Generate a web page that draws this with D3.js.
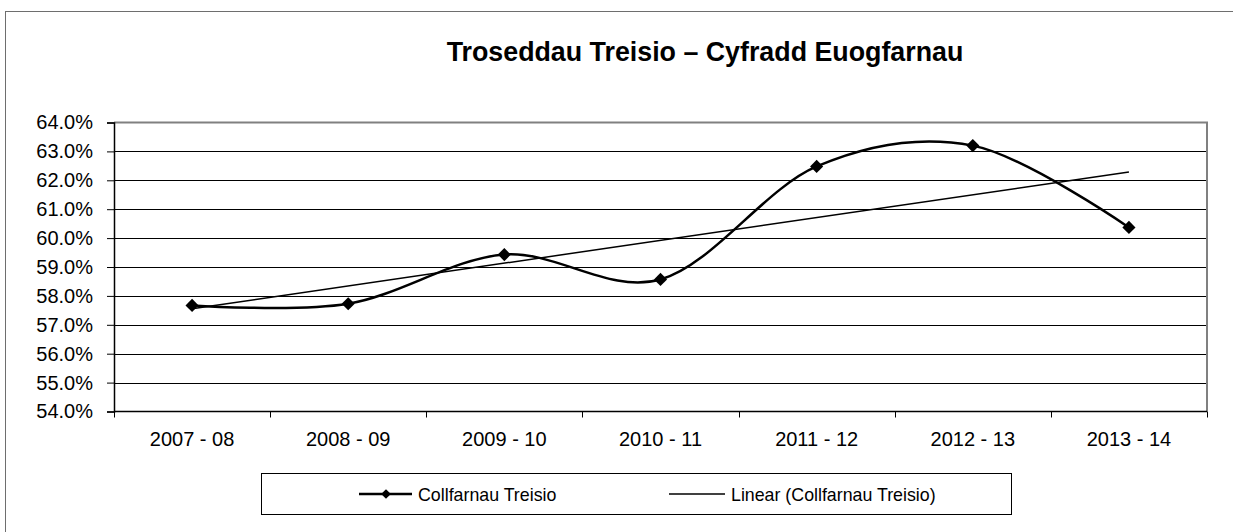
<!DOCTYPE html>
<html>
<head>
<meta charset="utf-8">
<script src="https://cdn.jsdelivr.net/npm/d3@7"></script>
<style>
  body { margin: 0; background: #fff; }
  svg { display: block; font-family: Arial, "Liberation Sans", sans-serif; }
</style>
</head>
<body>
<svg id="chart" width="1233" height="532"></svg>
<script>
// chart data
const years = ["2007 - 08", "2008 - 09", "2009 - 10", "2010 - 11", "2011 - 12", "2012 - 13", "2013 - 14"];
const rates = [57.67, 57.73, 59.43, 58.57, 62.48, 63.20, 60.37];
const yTicks = [54, 55, 56, 57, 58, 59, 60, 61, 62, 63, 64];
const seriesName = "Collfarnau Treisio";
const trendName = "Linear (Collfarnau Treisio)";
const titleText = "Troseddau Treisio – Cyfradd Euogfarnau";

const svg = d3.select("#chart");

// plot area
const plotL = 114, plotT = 122.5, plotR = 1207, plotB = 411.5;

// outer frame (runs off the right and bottom edge)
svg.append("rect")
    .attr("x", 5.5).attr("y", 11.5)
    .attr("width", 1300).attr("height", 600)
    .attr("fill", "none")
    .attr("stroke", "#6e6e6e");

const xScale = d3.scaleBand()
    .domain(years)
    .range([plotL, plotR]);

const yScale = d3.scaleLinear()
    .domain([54, 64])
    .range([plotB, plotT]);

// gridlines
svg.append("g").selectAll("line")
    .data(yTicks.slice(1, -1))
    .enter().append("line")
    .attr("x1", plotL).attr("x2", plotR)
    .attr("y1", d => Math.round(yScale(d)) + 0.5)
    .attr("y2", d => Math.round(yScale(d)) + 0.5)
    .attr("stroke", "#000")
    .attr("stroke-width", 1);

// plot border top / right
svg.append("path")
    .attr("d", `M${plotL},${plotT}H${plotR}V${plotB}`)
    .attr("fill", "none")
    .attr("stroke", "#808080")
    .attr("stroke-width", 2);

// y axis
const yAxis = d3.axisLeft(yScale)
    .tickValues(yTicks)
    .tickSize(7)
    .tickPadding(14)
    .tickFormat(d => d.toFixed(1) + "%");

const gy = svg.append("g")
    .attr("transform", `translate(${plotL},0)`)
    .call(yAxis);
gy.select(".domain").attr("stroke", "#000").attr("stroke-width", 1.5);
gy.selectAll(".tick line").attr("stroke", "#000");
gy.selectAll(".tick text")
    .attr("font-size", "20px")
    .attr("fill", "#000")
    .attr("font-family", "Arial, 'Liberation Sans', sans-serif");

// x axis, ticks on band edges
const gx = svg.append("g")
    .attr("transform", `translate(0,${plotB})`);
gx.append("line")
    .attr("x1", plotL).attr("x2", plotR)
    .attr("y1", 0).attr("y2", 0)
    .attr("stroke", "#000").attr("stroke-width", 1.5);
const edges = years.map(d => xScale(d)).concat([plotR]);
gx.selectAll(".edge")
    .data(edges)
    .enter().append("line")
    .attr("class", "edge")
    .attr("x1", d => Math.round(d) + 0.5).attr("x2", d => Math.round(d) + 0.5)
    .attr("y1", 0).attr("y2", 6)
    .attr("stroke", "#000");
gx.selectAll(".lbl")
    .data(years)
    .enter().append("text")
    .attr("class", "lbl")
    .attr("x", d => xScale(d) + xScale.bandwidth() / 2)
    .attr("y", 34)
    .attr("text-anchor", "middle")
    .attr("font-size", "20px")
    .text(d => d);

const pts = years.map((d, i) => ({ x: xScale(d) + xScale.bandwidth() / 2, v: rates[i], i: i }));

// linear trend (least squares on index)
const n = rates.length;
const mx = d3.mean(pts, d => d.i + 1);
const my = d3.mean(rates);
const slope = d3.sum(pts, d => (d.i + 1 - mx) * (d.v - my)) / d3.sum(pts, d => (d.i + 1 - mx) ** 2);
const icpt = my - slope * mx;
const trend = pts.map(d => ({ x: d.x, v: icpt + slope * (d.i + 1) }));

svg.append("path")
    .datum([trend[0], trend[n - 1]])
    .attr("d", d3.line().x(d => d.x).y(d => yScale(d.v)))
    .attr("fill", "none")
    .attr("stroke", "#000")
    .attr("stroke-width", 1.5);

// smoothed series line
svg.append("path")
    .datum(pts)
    .attr("d", d3.line().x(d => d.x).y(d => yScale(d.v)).curve(d3.curveCatmullRom.alpha(0)))
    .attr("fill", "none")
    .attr("stroke", "#000")
    .attr("stroke-width", 2.5);

const diamond = d3.symbol().type(d3.symbolDiamond2).size(110);
svg.append("g").selectAll("path")
    .data(pts)
    .enter().append("path")
    .attr("d", diamond)
    .attr("transform", d => `translate(${d.x},${yScale(d.v)})`)
    .attr("fill", "#000");

// title
svg.append("text")
    .attr("x", 705).attr("y", 61)
    .attr("text-anchor", "middle")
    .attr("font-size", "26.8px")
    .attr("font-weight", "bold")
    .text(titleText);

// legend
const lg = svg.append("g");
lg.append("rect")
    .attr("x", 261.5).attr("y", 473.5)
    .attr("width", 750).attr("height", 41)
    .attr("fill", "#fff")
    .attr("stroke", "#000")
    .attr("stroke-width", 1);
lg.append("line")
    .attr("x1", 359).attr("x2", 412).attr("y1", 494).attr("y2", 494)
    .attr("stroke", "#000").attr("stroke-width", 2.5);
lg.append("path")
    .attr("d", d3.symbol().type(d3.symbolDiamond2).size(60))
    .attr("transform", "translate(386,494)")
    .attr("fill", "#000");
lg.append("text")
    .attr("x", 418).attr("y", 500.5)
    .attr("font-size", "17.8px")
    .text(seriesName);
lg.append("line")
    .attr("x1", 669).attr("x2", 725).attr("y1", 494).attr("y2", 494)
    .attr("stroke", "#000").attr("stroke-width", 1.5);
lg.append("text")
    .attr("x", 731).attr("y", 500.5)
    .attr("font-size", "17.8px")
    .text(trendName);
</script>
</body>
</html>
